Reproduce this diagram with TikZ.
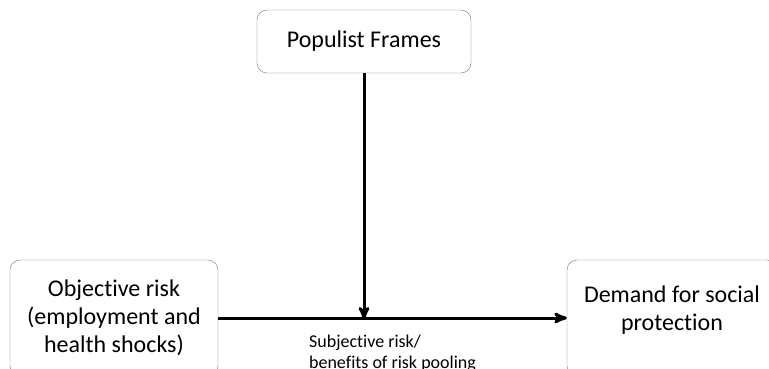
\documentclass[tikz,border=0pt]{standalone}
\usepackage{fontspec}
\setmainfont{Carlito}[Ligatures=NoCommon]
\usepackage{tikz}
\usetikzlibrary{shapes,arrows,positioning}

\begin{document}
\begin{tikzpicture}[x=1pt,y=-1pt,>=stealth',
  box/.style={draw=black!55,thin,rounded corners=10pt,align=center,font=\fontsize{24}{28}\selectfont},
  link/.style={->,line width=3pt}]
 \path[use as bounding box,clip] (0,0) rectangle (769,369);
 \node[box,minimum width=214pt,minimum height=63pt] (frames) at (364,41.5) {Populist Frames};
 \node[box,minimum width=208pt,minimum height=116pt] (objrisk) at (114,318) {Objective risk\\(employment and\\health shocks)};
 \node[box,minimum width=210pt,minimum height=116pt,text depth=20pt] (demand) at (672,318) {Demand for social\\protection};
 \coordinate (meet) at (frames.south |- objrisk.east);

  \path[link]
  (objrisk) edge node[below=12pt,align=left,font=\fontsize{18}{21}\selectfont] {Subjective risk/\\benefits of risk pooling} (demand)
  (frames) edge ([yshift=-1.5pt]meet)
  ;
\end{tikzpicture}
\end{document}
